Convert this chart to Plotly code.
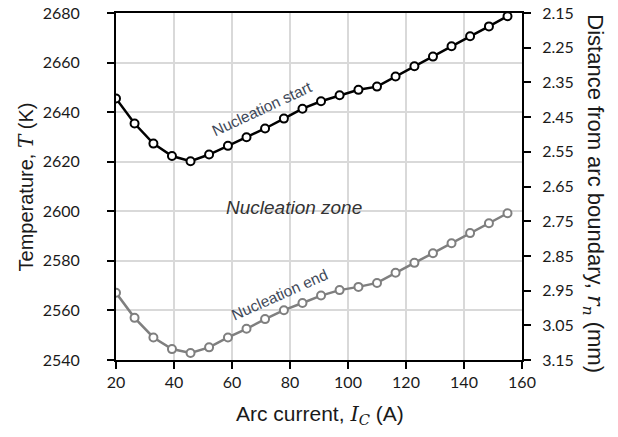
import plotly.graph_objects as go

# Data
arc_current = [20, 26.4, 32.9, 39.3, 45.7, 52.1, 58.6, 65.0, 71.4, 77.9, 84.3,
               90.7, 97.1, 103.6, 110.0, 116.4, 122.9, 129.3, 135.7, 142.1, 148.6, 155.0]
t_start = [2645.5, 2635.4, 2627.3, 2622.3, 2620.2, 2622.9, 2626.4, 2629.9, 2633.4, 2637.4, 2641.4,
           2644.4, 2646.8, 2649.0, 2650.3, 2654.4, 2658.5, 2662.4, 2666.6, 2670.6, 2674.6, 2678.7]
t_end = [2567.1, 2557.0, 2549.1, 2544.4, 2542.8, 2545.1, 2549.1, 2552.6, 2556.5, 2560.1, 2563.0,
         2566.0, 2568.2, 2569.5, 2571.1, 2575.2, 2579.2, 2583.1, 2587.1, 2591.2, 2595.2, 2599.2]
x_ticks = [20, 40, 60, 80, 100, 120, 140, 160]
t_ticks = [2540, 2560, 2580, 2600, 2620, 2640, 2660, 2680]
r_ticks = [2.15, 2.25, 2.35, 2.45, 2.55, 2.65, 2.75, 2.85, 2.95, 3.05, 3.15]

TICK_FONT = dict(family="Lato, 'Open Sans', sans-serif", size=16, color="#1a1a1a")
SANS = "'Liberation Sans', Arial, sans-serif"
MATH = "<span style=\"font-family:'DejaVu Serif', serif\"><i>{}</i></span>"

fig = go.Figure()
fig.add_trace(go.Scatter(
    x=arc_current, y=t_start, mode="lines+markers",
    line=dict(color="black", width=2.5),
    marker=dict(symbol="circle", size=8, color="white", line=dict(color="black", width=2)),
    showlegend=False, hoverinfo="skip"))
fig.add_trace(go.Scatter(
    x=arc_current, y=t_end, mode="lines+markers",
    line=dict(color="#7f7f7f", width=2.5),
    marker=dict(symbol="circle", size=8, color="white", line=dict(color="#7f7f7f", width=2)),
    showlegend=False, hoverinfo="skip"))
# empty trace so the secondary (distance) axis is drawn
fig.add_trace(go.Scatter(x=[], y=[], yaxis="y2", showlegend=False, hoverinfo="skip"))

fig.update_layout(
    width=618, height=437,
    margin=dict(l=116, r=96, t=13, b=77, autoexpand=False),
    paper_bgcolor="white", plot_bgcolor="white",
    xaxis=dict(range=[20, 160], tickvals=x_ticks, showgrid=True, gridcolor="#d9d9d9", gridwidth=1.5,
               showline=True, linecolor="black", linewidth=2, mirror=True,
               ticks="outside", ticklen=7, tickwidth=2, tickcolor="black",
               tickfont=TICK_FONT, zeroline=False, automargin=False, ticklabelstandoff=0),
    yaxis=dict(range=[2540, 2680], tickvals=t_ticks, showgrid=True, gridcolor="#d9d9d9", gridwidth=1.5,
               showline=True, linecolor="black", linewidth=2,
               ticks="outside", ticklen=7, tickwidth=1.5, tickcolor="black",
               tickfont=TICK_FONT, zeroline=False, ticklabelstandoff=24, automargin=False),
    yaxis2=dict(range=[3.15, 2.15], overlaying="y", side="right", tickvals=r_ticks,
                tickformat=".2f", showgrid=False, showline=True, linecolor="black", linewidth=2,
                ticks="outside", ticklen=7, tickwidth=1.5, tickcolor="black",
                tickfont=TICK_FONT, zeroline=False, ticklabelstandoff=8, automargin=False),
)

# axis titles
fig.add_annotation(x=-0.2217, y=0.5, xref="paper", yref="paper", showarrow=False, textangle=-90,
                   xanchor="center", yanchor="middle",
                   text="Temperature, " + MATH.format("T") + " (K)",
                   font=dict(family=SANS, size=20, color="#1a1a1a"))
fig.add_annotation(x=0.5025, y=-0.1585, xref="paper", yref="paper", showarrow=False,
                   xanchor="center", yanchor="middle",
                   text="Arc current, " + MATH.format("I") + "<sub>" + MATH.format("C") + "</sub> (A)",
                   font=dict(family=SANS, size=21, color="#1a1a1a"))
fig.add_annotation(x=1.177, y=0.478, xref="paper", yref="paper", showarrow=False, textangle=90,
                   xanchor="center", yanchor="middle",
                   text="Distance from arc boundary, " + MATH.format("r") + "<sub>" + MATH.format("n") + "</sub> (mm)",
                   font=dict(family=SANS, size=22, color="#1a1a1a"))

# in-plot labels
fig.add_annotation(x=70.5, y=2641.3, showarrow=False, textangle=-25, text="Nucleation start",
                   font=dict(family=SANS, size=15.5, color="#404858"))
fig.add_annotation(x=76.5, y=2566.3, showarrow=False, textangle=-24, text="Nucleation end",
                   font=dict(family=SANS, size=15.5, color="#404858"))
fig.add_annotation(x=81.4, y=2601.5, showarrow=False, text="<i>Nucleation zone</i>",
                   font=dict(family=SANS, size=19, color="#333333"))

fig.write_html("out.html", config={"displayModeBar": False},
               post_script="document.body.style.margin='0';")
